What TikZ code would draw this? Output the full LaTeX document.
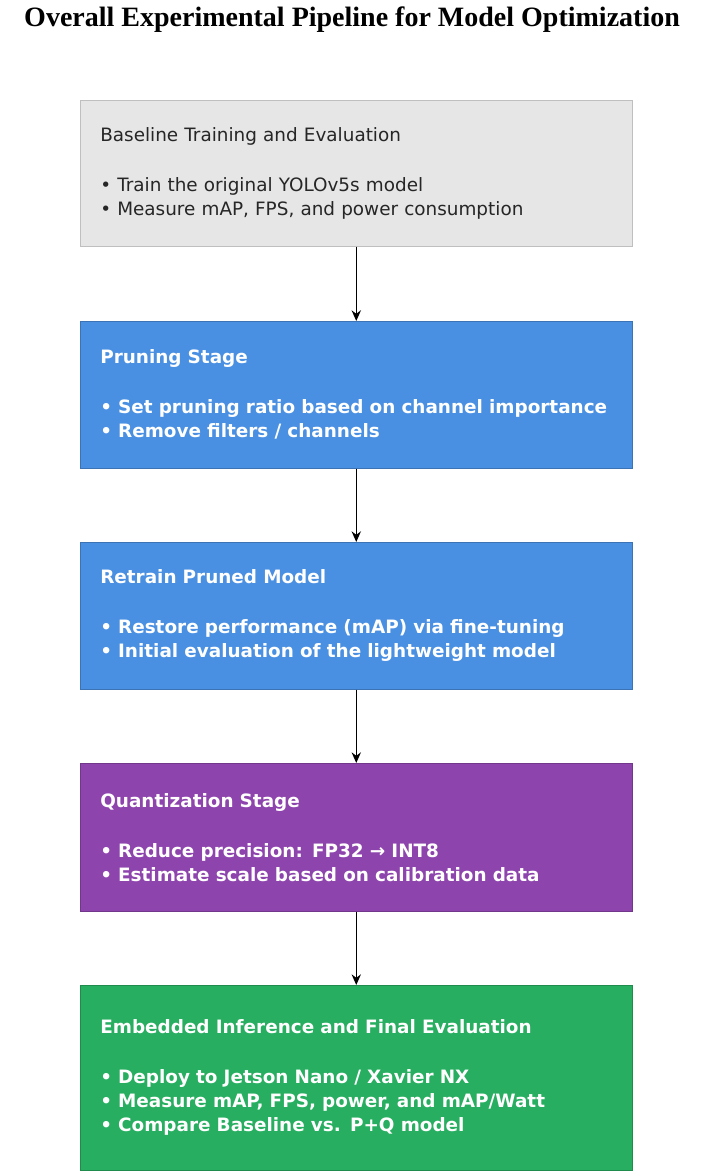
\documentclass[tikz,border=0pt]{standalone}
\usepackage{fontspec}
\setmainfont{Liberation Serif}
\newfontfamily\boxfont{DejaVu Sans}
\usetikzlibrary{arrows.meta, positioning}
\definecolor{basegray}{HTML}{E6E6E6}
\definecolor{stageblue}{HTML}{4A90E2}
\definecolor{stagepurple}{HTML}{8E44AD}
\definecolor{stagegreen}{HTML}{27AE60}
\tikzset{
  stage/.style={draw=#1!80!black, fill=#1, minimum width=552*0.75pt, anchor=north west,
    text width=512*0.75pt, inner xsep=20*0.75pt, align=left, font=\boxfont\fontsize{13.8}{18}\selectfont},
  light/.style={text=black!85},
  dark/.style={text=white, font=\boxfont\bfseries\fontsize{13.8}{18}\selectfont},
  flow/.style={-{Stealth[length=8pt,width=7pt]}, black, line width=0.9pt}
}
\begin{document}
\begin{tikzpicture}[x=0.75pt, y=-0.75pt]
    \useasboundingbox (0,0) rectangle (706,1176);
    \node[font=\bfseries\fontsize{21}{22}\selectfont] (title) at (352,20) {Overall Experimental Pipeline for Model Optimization};

    \node[stage=basegray, light, minimum height=146*0.75pt, draw=black!25] (base) at (80,100)
        {Baseline Training and Evaluation\\[19.5pt]
         • Train the original YOLOv5s model\\
         • Measure mAP, FPS, and power consumption};
    \node[stage=stageblue, dark, minimum height=147*0.75pt] (prune) at (80,321)
        {Pruning Stage\\[19.5pt]
         • Set pruning ratio based on channel importance\\
         • Remove filters / channels};
    \node[stage=stageblue, dark, minimum height=147*0.75pt] (retrain) at (80,542)
        {Retrain Pruned Model\\[19.5pt]
         • Restore performance (mAP) via fine-tuning\\
         • Initial evaluation of the lightweight model};
    \node[stage=stagepurple, dark, minimum height=148*0.75pt] (quant) at (80,763)
        {Quantization Stage\\[19.5pt]
         • Reduce precision: FP32 → INT8\\
         • Estimate scale based on calibration data};
    \node[stage=stagegreen, dark, minimum height=185*0.75pt] (deploy) at (80,985)
        {Embedded Inference and Final Evaluation\\[19.5pt]
         • Deploy to Jetson Nano / Xavier NX\\
         • Measure mAP, FPS, power, and mAP/Watt\\
         • Compare Baseline vs. P+Q model};

    \draw[flow] (base.south) -- (prune.north);
    \draw[flow] (prune.south) -- (retrain.north);
    \draw[flow] (retrain.south) -- (quant.north);
    \draw[flow] (quant.south) -- (deploy.north);
\end{tikzpicture}
\end{document}
